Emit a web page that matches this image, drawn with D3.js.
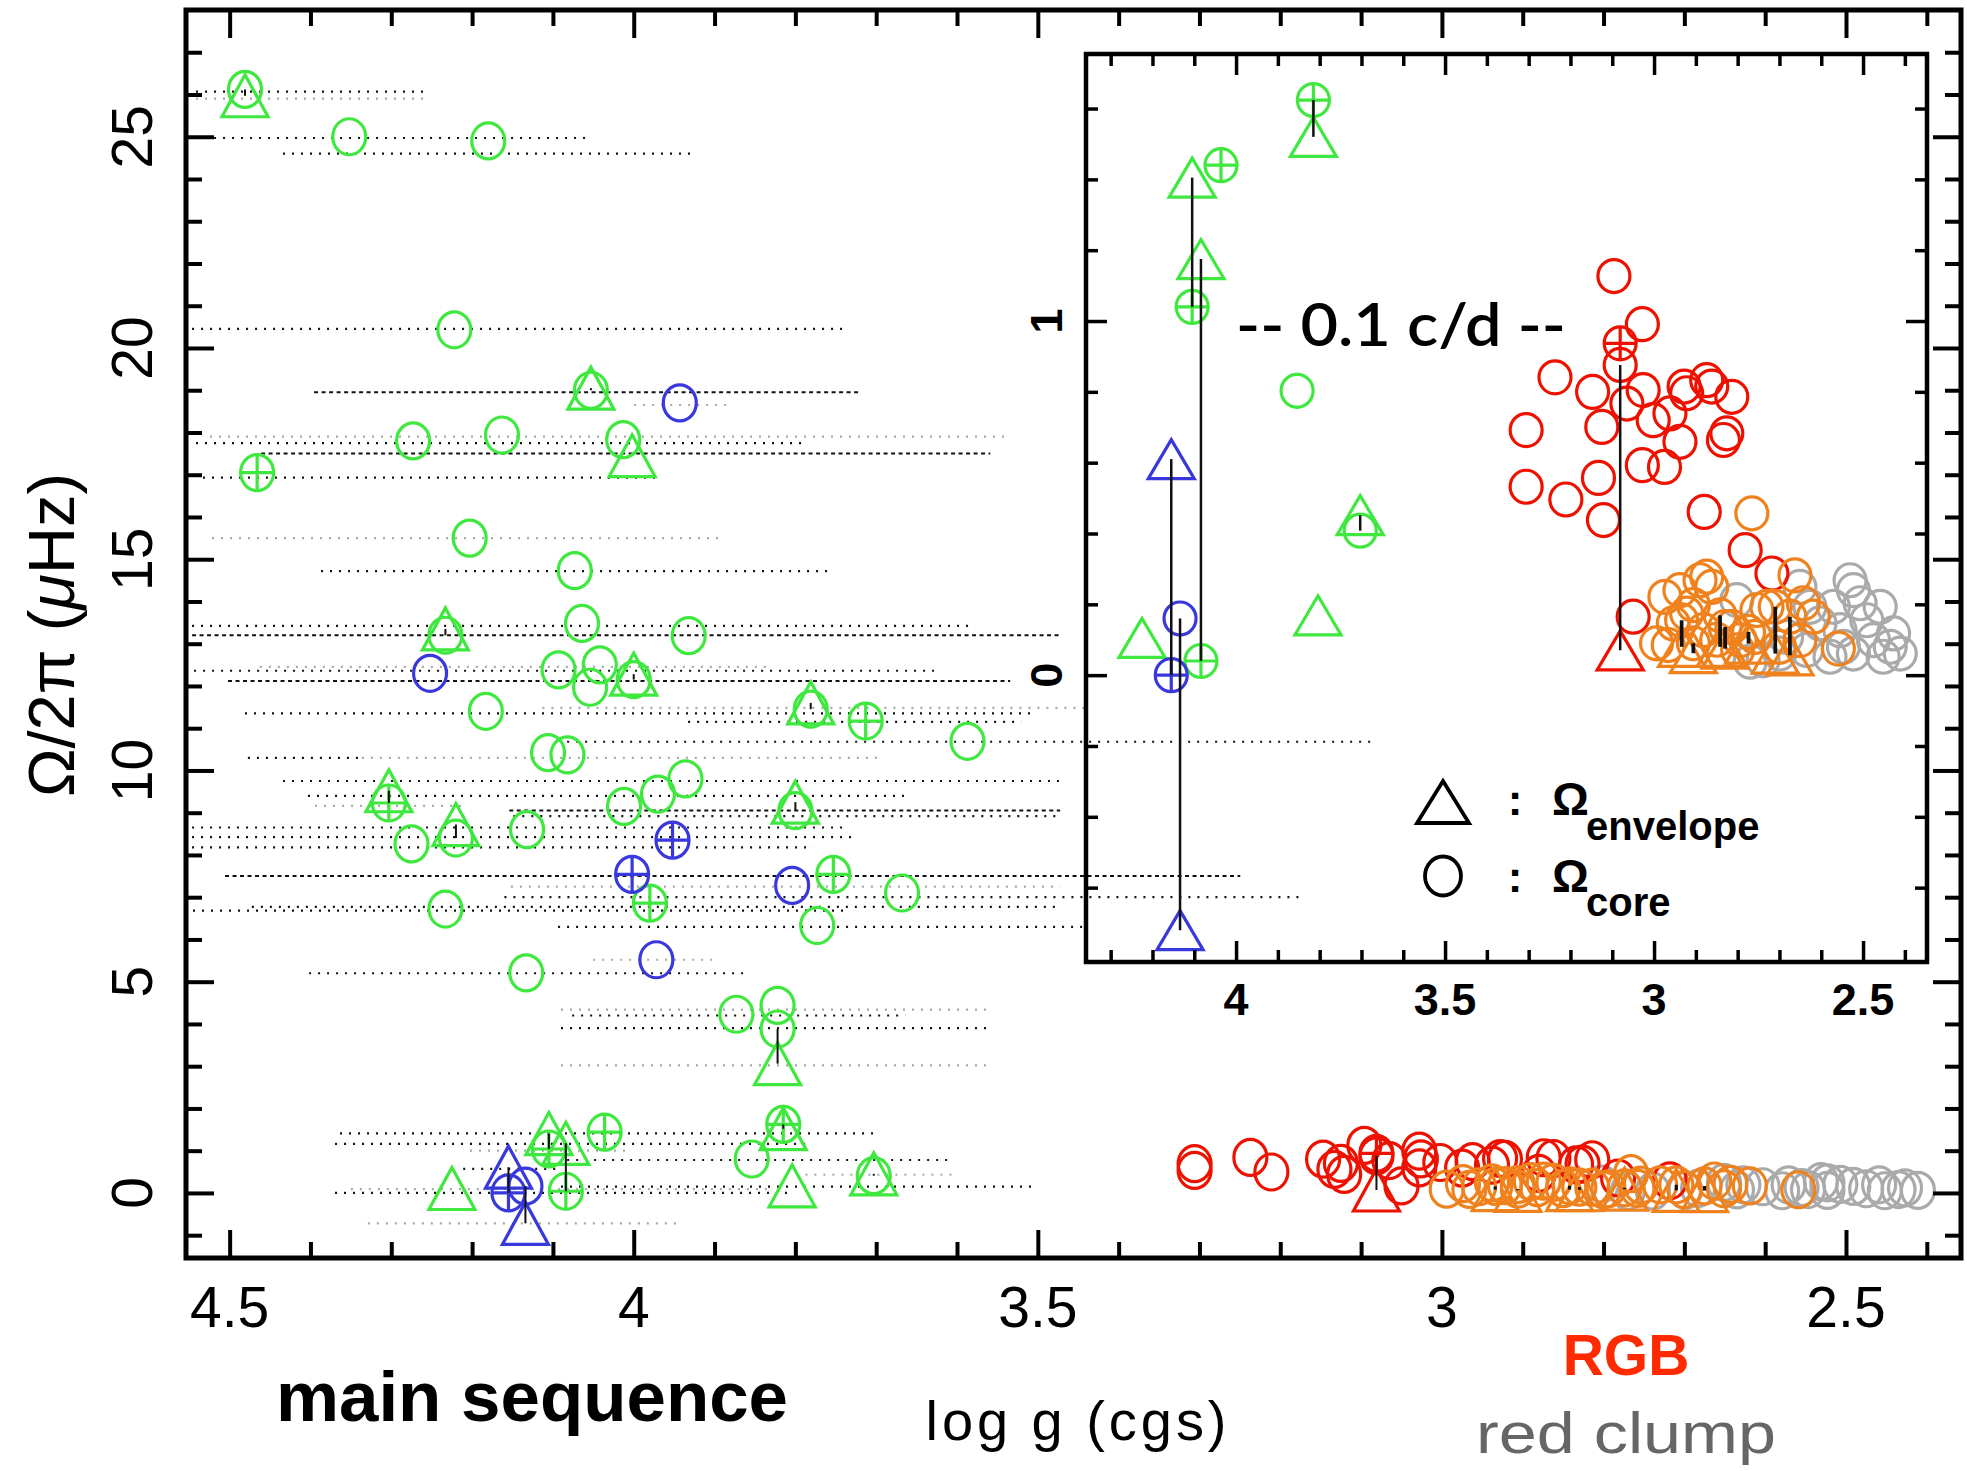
<!DOCTYPE html>
<html>
<head>
<meta charset="utf-8">
<script src="https://cdn.jsdelivr.net/npm/d3@7"></script>
<style>
  body { margin: 0; background: #fff; }
  text { font-family: "Liberation Sans", Arial, sans-serif; }
  text.geo { font-family: Lato, "Open Sans", sans-serif; font-weight: 600; }
</style>
</head>
<body>
<svg id="chart" width="1967" height="1471"></svg>
<script>
// ---------------------------------------------------------------------------
// Data: log g (cgs) and rotation rate Ω/2π (µHz)
// core rows: [log g, Ω/2π, crossed symbol (1/0)]; envelope rows: [log g, Ω/2π]
// ---------------------------------------------------------------------------
const msCore = [
  [4.481, 26.12, 0], [4.352, 25.0, 0], [4.180, 24.9, 0], [4.222, 20.43, 0],
  [4.053, 19.0, 0], [4.273, 17.8, 0], [4.163, 17.94, 0], [4.013, 17.83, 0],
  [4.466, 17.05, 1], [4.203, 15.5, 0], [4.073, 14.73, 0], [4.233, 13.2, 0],
  [4.064, 13.48, 0], [3.932, 13.19, 0], [4.093, 12.38, 0], [4.042, 12.5, 0],
  [4.054, 11.97, 0], [4.000, 12.15, 0], [4.183, 11.4, 0], [3.781, 11.45, 0],
  [3.713, 11.17, 1], [3.587, 10.69, 0], [4.106, 10.42, 0], [4.082, 10.37, 0],
  [3.936, 9.8, 0], [3.970, 9.44, 0], [4.303, 9.23, 1], [3.800, 9.05, 0],
  [4.012, 9.15, 0], [4.275, 8.26, 0], [4.220, 8.4, 0], [4.132, 8.6, 0],
  [3.980, 6.86, 1], [3.753, 7.54, 1], [3.668, 7.1, 0], [3.773, 6.33, 0],
  [4.233, 6.72, 0], [4.133, 5.21, 0], [3.873, 4.23, 0], [3.822, 4.44, 0],
  [3.822, 3.88, 0], [4.105, 1.04, 1], [4.084, 0.04, 1], [4.036, 1.44, 1],
  [3.815, 1.624, 1], [3.854, 0.803, 0], [3.703, 0.408, 0]
];
const msEnvelope = [
  [4.481, 25.97], [4.053, 19.05], [4.002, 17.45], [4.233, 13.35],
  [4.000, 12.28], [3.781, 11.6], [4.303, 9.52], [3.800, 9.25],
  [4.220, 8.72], [3.822, 3.06], [4.105, 1.405], [4.084, 1.175],
  [3.815, 1.52], [3.804, 0.169], [3.703, 0.452], [4.225, 0.105]
];

const sgCore = [
  [3.943, 18.7, 0], [4.252, 12.3, 0], [3.952, 8.35, 1], [4.002, 7.54, 1],
  [3.804, 7.28, 0], [3.972, 5.52, 0], [4.155, 0.0, 1], [4.134, 0.16, 0]
];
const sgEnvelope = [[4.155, 0.61], [4.134, -0.72]];

const rgbCore = [
  [3.096, 1.127, 0], [3.028, 0.991, 0], [3.081, 0.937, 1], [3.081, 0.876, 0],
  [3.237, 0.841, 0], [3.147, 0.80, 0], [3.065, 0.767, 0], [3.026, 0.805, 0],
  [3.125, 0.701, 0], [3.306, 0.692, 0], [3.002, 0.72, 0], [2.962, 0.739, 0],
  [2.928, 0.815, 0], [2.922, 0.796, 0], [2.874, 0.833, 0], [2.862, 0.815, 0],
  [2.814, 0.786, 0], [2.938, 0.659, 0], [2.826, 0.683, 0], [2.834, 0.664, 0],
  [3.028, 0.593, 0], [2.975, 0.588, 0], [3.306, 0.532, 0], [3.211, 0.496, 0],
  [3.133, 0.557, 0], [3.121, 0.438, 0], [2.880, 0.461, 0], [2.782, 0.353, 0],
  [2.718, 0.287, 0], [3.050, 0.165, 0]
];
const rgbEnvelope = [[3.081, 0.07]];

const clumpCore = [
  [2.934, 0.155, 0], [2.906, 0.198, 0], [2.842, 0.169, 0], [2.830, 0.136, 0],
  [2.774, 0.122, 0], [2.710, 0.193, 0], [2.675, 0.165, 0],
  [2.766, 0.457, 0], [2.663, 0.282, 0], [2.974, 0.221, 0], [2.966, 0.085, 0],
  [2.938, 0.24, 0], [2.922, 0.174, 0], [2.890, 0.268, 0], [2.874, 0.278, 0],
  [2.862, 0.249, 0], [2.882, 0.127, 0], [2.954, 0.146, 0], [2.814, 0.136, 0],
  [2.794, 0.099, 0], [2.754, 0.184, 0], [2.730, 0.193, 0], [2.643, 0.203, 0],
  [2.619, 0.165, 0], [2.651, 0.099, 0], [2.559, 0.075, 0], [2.994, 0.09, 0],
  [2.758, 0.108, 0], [2.906, 0.09, 0], [2.850, 0.10, 0], [2.800, 0.07, 0],
  [2.700, 0.08, 0]
];
const clumpEnvelope = [
  [2.934, 0.08], [2.906, 0.062], [2.842, 0.08], [2.830, 0.075],
  [2.774, 0.089], [2.710, 0.061], [2.675, 0.056]
];

const clumpGrayCore = [
  [2.651, 0.249, 0], [2.531, 0.268, 0], [2.523, 0.24, 0], [2.571, 0.193, 0],
  [2.603, 0.146, 0], [2.555, 0.127, 0], [2.491, 0.155, 0], [2.475, 0.099, 0],
  [2.435, 0.08, 0], [2.427, 0.118, 0], [2.411, 0.061, 0], [2.452, 0.052, 0],
  [2.523, 0.061, 0], [2.579, 0.052, 0], [2.635, 0.071, 0], [2.699, 0.061, 0],
  [2.739, 0.042, 0], [2.683, 0.108, 0], [2.627, 0.193, 0], [2.507, 0.203, 0],
  [2.459, 0.193, 0], [2.547, 0.08, 0], [2.802, 0.212, 0], [2.770, 0.038, 0]
];

// log g ranges of the stars: [Ω/2π, log g from, log g to]
const rangeBlack = [
  [26.07, 4.5416, 4.257], [24.97, 4.5193, 4.060], [24.6, 4.434, 3.9277],
  [20.45, 4.5465, 3.7384], [17.75, 4.5416, 3.7866], [16.93, 4.533, 3.9723],
  [14.72, 4.3869, 3.7606], [13.42, 4.5465, 3.5786], [12.36, 4.544, 3.6268],
  [11.35, 4.481, 3.5094], [11.15, 3.9327, 3.5205], [10.68, 4.0824, 3.0837],
  [10.3, 4.4774, 4.3364], [9.75, 4.434, 3.4723], [9.4, 4.403, 3.6639],
  [8.92, 4.149, 3.4747], [8.65, 4.5465, 3.7384], [8.42, 4.5465, 3.7297],
  [8.18, 4.5465, 3.778], [7.0, 4.16, 3.174], [6.77, 4.4725, 3.4772],
  [6.68, 4.5453, 3.7334], [6.3, 4.0936, 3.445], [5.2, 4.4017, 3.8597],
  [4.2, 4.0762, 3.6639], [3.9, 4.09, 3.56], [1.41, 4.3634, 3.7035],
  [1.16, 4.3696, 3.7854], [0.78, 4.0824, 3.612], [0.57, 4.211, 4.09],
  [0.15, 4.09, 3.5082], [0.0, 4.3696, 3.8028]
];
const rangeDense = [
  [18.95, 4.3955, 3.721], [17.5, 4.4611, 3.5588], [13.2, 4.5465, 3.471],
  [12.12, 4.502, 3.5342], [9.05, 4.154, 3.4723], [7.5, 4.5057, 3.2495]
];
const rangeGray = [
  [25.9, 4.5416, 4.257], [18.65, 3.9995, 3.8844], [17.9, 4.5243, 3.5342],
  [15.5, 4.5218, 3.8894], [12.45, 4.4626, 3.83], [11.48, 4.113, 3.4414],
  [10.3, 4.3364, 3.6973], [9.16, 4.3943, 4.2074], [7.25, 4.152, 3.4723],
  [5.52, 4.0502, 3.8993], [4.34, 4.09, 3.56], [3.02, 4.09, 3.56],
  [1.0, 4.2025, 4.007], [0.43, 3.7987, 3.6033], [0.09, 4.35, 3.8288],
  [-0.72, 4.329, 3.9426]
];

// axis ticks
const mainXMajor = [4.5, 4, 3.5, 3, 2.5];
const mainYMajor = [0, 5, 10, 15, 20, 25];
const insetXMajor = [4, 3.5, 3, 2.5];
const insetYMajor = [0, 1];
const mainXLabels = ["4.5", "4", "3.5", "3", "2.5"];
const mainYLabels = ["0", "5", "10", "15", "20", "25"];
const insetXLabels = ["4", "3.5", "3", "2.5"];
const insetYLabels = ["0", "1"];

// ---------------------------------------------------------------------------
const colors = {
  ms: "#3ee83e", sg: "#3838dc", rgb: "#ee1100", clump: "#f0821e", gray: "#aaaaaa"
};

const svg = d3.select("#chart");
svg.append("rect").attr("width", 1967).attr("height", 1471).attr("fill", "#fff");

const mainBox = { left: 186, right: 1961, top: 10, bottom: 1258 };
const x = d3.scaleLinear().domain([4.554, 2.3577]).range([mainBox.left, mainBox.right]);
const y = d3.scaleLinear().domain([-1.54, 28.0]).range([mainBox.bottom, mainBox.top]);

const insBox = { left: 1086, right: 1927, top: 54, bottom: 962 };
const xi = d3.scaleLinear().domain([4.359, 2.347]).range([insBox.left, insBox.right]);
const yi = d3.scaleLinear().domain([-0.81, 1.754]).range([insBox.bottom, insBox.top]);

const near = (a, b) => Math.abs(a - b) < 1e-6;

function ticks(g, sx, sy, box, xMaj, xMin, yMaj, yMin, lenMaj, lenMin, sw) {
  const defs = [
    [d3.axisBottom, sx, `translate(0,${box.bottom})`],
    [d3.axisTop, sx, `translate(0,${box.top})`],
    [d3.axisLeft, sy, `translate(${box.left},0)`],
    [d3.axisRight, sy, `translate(${box.right},0)`]
  ];
  defs.forEach(([ax, sc, tr], i) => {
    const isX = i < 2;
    [[isX ? xMaj : yMaj, lenMaj], [isX ? xMin : yMin, lenMin]].forEach(([vals, len]) => {
      const a = g.append("g").attr("transform", tr)
        .call(ax(sc).tickValues(vals).tickSizeInner(-len).tickSizeOuter(0).tickFormat(""));
      a.select(".domain").remove();
      a.selectAll("line").attr("stroke", "#000").attr("stroke-width", sw);
    });
  });
}

function minorRange(lo, hi, step, majors) {
  return d3.range(Math.round((hi - lo) / step) + 1)
    .map(i => +(lo + i * step).toFixed(4))
    .filter(v => !majors.some(m => near(m, v)));
}

function rangeLines(g, sx, sy) {
  const sets = [
    [rangeGray, "#a8a8a8", "2,7", 2.2],
    [rangeBlack, "#111", "2,7", 2.2],
    [rangeDense, "#111", "4,3.5", 2]
  ];
  sets.forEach(([rows, col, dash, w]) => {
    g.append("g").attr("stroke", col).attr("stroke-width", w).attr("stroke-dasharray", dash)
      .selectAll("line").data(rows).join("line")
      .attr("x1", d => sx(d[1])).attr("x2", d => sx(d[2]))
      .attr("y1", d => sy(d[0])).attr("y2", d => sy(d[0]));
  });
}

function circles(g, sx, sy, rows, color, rx, ry) {
  const s = g.append("g").attr("fill", "none").attr("stroke", color).attr("stroke-width", 3.2);
  s.selectAll("ellipse").data(rows).join("ellipse")
    .attr("cx", d => sx(d[0])).attr("cy", d => sy(d[1])).attr("rx", rx).attr("ry", ry);
  s.selectAll("path").data(rows.filter(d => d[2])).join("path")
    .attr("d", d => {
      const cx = sx(d[0]), cy = sy(d[1]);
      return `M${cx - rx},${cy}H${cx + rx}M${cx},${cy - ry}V${cy + ry}`;
    });
}

function triangles(g, sx, sy, rows, color, w, h) {
  g.append("g").attr("fill", "none").attr("stroke", color).attr("stroke-width", 3.2)
    .selectAll("path").data(rows).join("path")
    .attr("d", d => {
      const cx = sx(d[0]), cy = sy(d[1]);
      return `M${cx},${cy - h / 2}L${cx + w / 2},${cy + h / 2}L${cx - w / 2},${cy + h / 2}Z`;
    });
}

// connect each envelope value with the core value of the same star
function pairs(core, env) {
  return env.map(e => {
    const m = core.filter(c => near(c[0], e[0]));
    if (!m.length) return null;
    const c = m.reduce((a, b) => Math.abs(b[1] - e[1]) < Math.abs(a[1] - e[1]) ? b : a);
    return [e[0], e[1], c[1]];
  }).filter(Boolean);
}

function bars(g, sx, sy, rows, w) {
  g.append("g").attr("stroke", "#111").attr("stroke-width", w)
    .selectAll("line").data(rows).join("line")
    .attr("x1", d => sx(d[0])).attr("x2", d => sx(d[0]))
    .attr("y1", d => sy(d[1])).attr("y2", d => sy(d[2]));
}

function allStars(g, sx, sy, rx, ry, tw, th, barW) {
  circles(g, sx, sy, clumpGrayCore, colors.gray, rx, ry);
  circles(g, sx, sy, rgbCore, colors.rgb, rx, ry);
  triangles(g, sx, sy, rgbEnvelope, colors.rgb, tw, th);
  circles(g, sx, sy, clumpCore, colors.clump, rx, ry);
  triangles(g, sx, sy, clumpEnvelope, colors.clump, tw, th);
  circles(g, sx, sy, msCore, colors.ms, rx, ry);
  triangles(g, sx, sy, msEnvelope, colors.ms, tw, th);
  circles(g, sx, sy, sgCore, colors.sg, rx, ry);
  triangles(g, sx, sy, sgEnvelope, colors.sg, tw, th);
  bars(g, sx, sy, pairs(msCore, msEnvelope), barW);
  bars(g, sx, sy, pairs(sgCore, sgEnvelope), barW);
  bars(g, sx, sy, pairs(rgbCore, rgbEnvelope), barW);
  bars(g, sx, sy, pairs(clumpCore, clumpEnvelope), barW + 1.2);
}

// ---------------------------- main panel ----------------------------------
const main = svg.append("g");
rangeLines(main, x, y);
allStars(main, x, y, 16.5, 18, 46, 42, 2);
ticks(main, x, y, mainBox,
  mainXMajor, minorRange(2.4, 4.5, 0.1, mainXMajor),
  mainYMajor, minorRange(-1, 27, 1, mainYMajor), 28, 16, 4);
main.append("rect")
  .attr("x", mainBox.left).attr("y", mainBox.top)
  .attr("width", mainBox.right - mainBox.left).attr("height", mainBox.bottom - mainBox.top)
  .attr("fill", "none").attr("stroke", "#000").attr("stroke-width", 5);

main.selectAll("text.xl").data(mainXMajor).join("text").attr("class", "xl")
  .attr("x", d => x(d)).attr("y", 1327).attr("text-anchor", "middle")
  .attr("font-size", 57).text((d, i) => mainXLabels[i]);
main.selectAll("text.yl").data(mainYMajor).join("text").attr("class", "yl")
  .attr("transform", d => `translate(152,${y(d)}) rotate(-90)`)
  .attr("text-anchor", "middle").attr("font-size", 57).text((d, i) => mainYLabels[i]);

const yTitle = main.append("text")
  .attr("transform", "translate(74,635) rotate(-90)")
  .attr("text-anchor", "middle").attr("font-size", 65);
yTitle.append("tspan").text("Ω/2π (");
yTitle.append("tspan").attr("font-style", "italic").text("μ");
yTitle.append("tspan").text("Hz)");

main.append("text").attr("x", 1076).attr("y", 1440).attr("text-anchor", "middle")
  .attr("font-size", 56).attr("textLength", 301).attr("lengthAdjust", "spacing")
  .text("log g (cgs)");
main.append("text").attr("x", 532).attr("y", 1421).attr("text-anchor", "middle")
  .attr("font-size", 70).attr("font-weight", "bold")
  .attr("textLength", 512).attr("lengthAdjust", "spacingAndGlyphs")
  .text("main sequence");
main.append("text").attr("x", 1626).attr("y", 1375).attr("text-anchor", "middle")
  .attr("font-size", 57).attr("font-weight", "bold").attr("fill", "#ff2a00")
  .text("RGB");
main.append("text").attr("x", 1626).attr("y", 1453).attr("text-anchor", "middle")
  .attr("font-size", 58).attr("fill", "#666666")
  .attr("textLength", 300).attr("lengthAdjust", "spacingAndGlyphs")
  .text("red clump");

// ---------------------------- inset panel ---------------------------------
const inset = svg.append("g");
inset.append("rect")
  .attr("x", insBox.left).attr("y", insBox.top)
  .attr("width", insBox.right - insBox.left).attr("height", insBox.bottom - insBox.top)
  .attr("fill", "#fff");

svg.append("clipPath").attr("id", "insetClip").append("rect")
  .attr("x", insBox.left).attr("y", insBox.top)
  .attr("width", insBox.right - insBox.left).attr("height", insBox.bottom - insBox.top);

// main-panel range lines that run on across the inset
rangeLines(inset.append("g").attr("clip-path", "url(#insetClip)"), x, y);

const insetStars = inset.append("g").attr("clip-path", "url(#insetClip)");
allStars(insetStars, xi, yi, 16, 16.5, 46, 39, 2.5);

ticks(inset, xi, yi, insBox,
  insetXMajor, minorRange(2.4, 4.3, 0.1, insetXMajor),
  insetYMajor, minorRange(-0.6, 1.6, 0.2, insetYMajor), 21, 12, 3.5);
inset.append("rect")
  .attr("x", insBox.left).attr("y", insBox.top)
  .attr("width", insBox.right - insBox.left).attr("height", insBox.bottom - insBox.top)
  .attr("fill", "none").attr("stroke", "#000").attr("stroke-width", 4.5);

inset.selectAll("text.xl").data(insetXMajor).join("text").attr("class", "xl")
  .attr("x", d => xi(d)).attr("y", 1015).attr("text-anchor", "middle")
  .attr("font-size", 45).attr("font-weight", "bold").text((d, i) => insetXLabels[i]);
inset.selectAll("text.yl").data(insetYMajor).join("text").attr("class", "yl")
  .attr("transform", d => `translate(1062,${yi(d)}) rotate(-90)`)
  .attr("text-anchor", "middle").attr("font-size", 45).attr("font-weight", "bold")
  .text((d, i) => insetYLabels[i]);

inset.append("text").attr("class", "geo").attr("x", 1236).attr("y", 346)
  .attr("font-size", 60)
  .attr("textLength", 330).attr("lengthAdjust", "spacingAndGlyphs")
  .text("-- 0.1 c/d --");

// legend
const leg = inset.append("g");
leg.append("path").attr("d", "M1443,781L1469,823L1417,823Z")
  .attr("fill", "none").attr("stroke", "#000").attr("stroke-width", 3.8);
leg.append("ellipse").attr("cx", 1443).attr("cy", 876).attr("rx", 18).attr("ry", 19.5)
  .attr("fill", "none").attr("stroke", "#000").attr("stroke-width", 3.8);
[[815, 840, "envelope"], [892, 916, "core"]].forEach(([b, sb, sub]) => {
  leg.append("text").attr("x", 1515).attr("y", b).attr("text-anchor", "middle")
    .attr("font-size", 44).attr("font-weight", "bold").text(":");
  leg.append("text").attr("x", 1552).attr("y", b)
    .attr("font-size", 46).attr("font-weight", "bold").text("Ω");
  leg.append("text").attr("x", 1586).attr("y", sb)
    .attr("font-size", 40).attr("font-weight", "bold").text(sub);
});
</script>
</body>
</html>
